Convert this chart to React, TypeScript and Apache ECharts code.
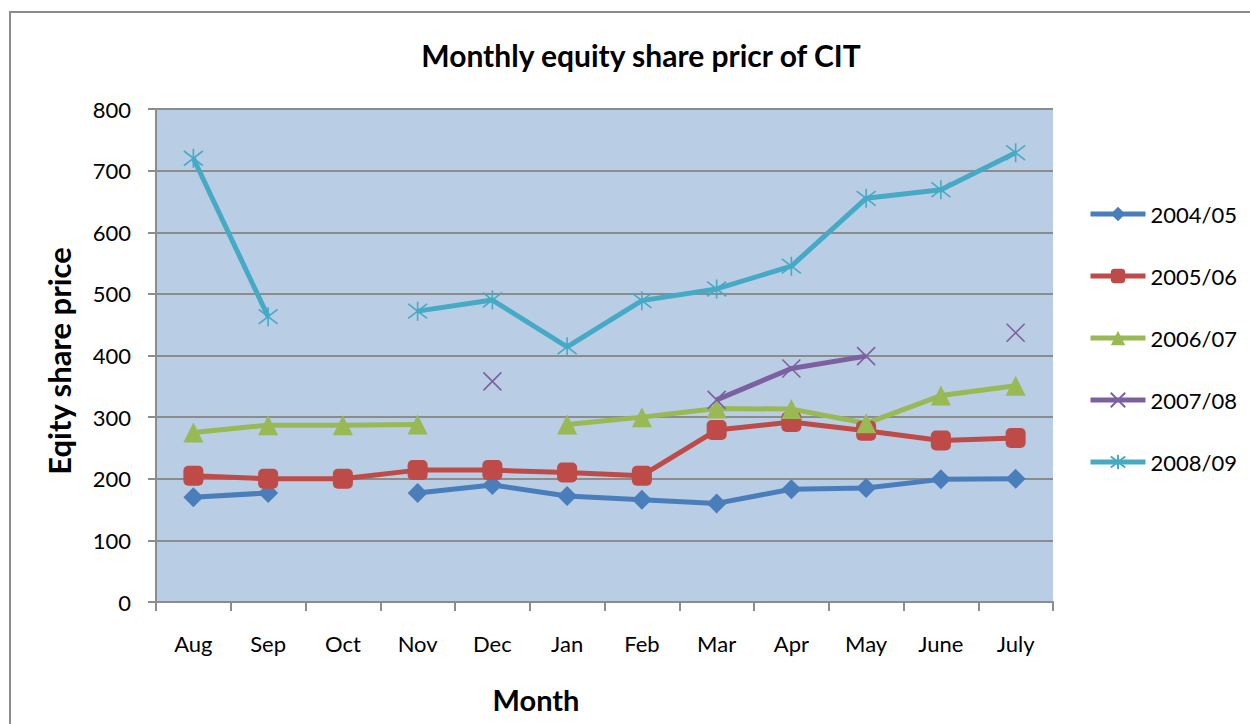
import React, { useEffect, useRef } from "react";
import * as echarts from "echarts";

const months = ["Aug", "Sep", "Oct", "Nov", "Dec", "Jan", "Feb", "Mar", "Apr", "May", "June", "July"];
const s2004 = [170, 177, null, 177, 190, 172, 166, 160, 183, 185, 199, 200];
const s2005 = [205, 200, 200, 214, 214, 210, 205, 279, 292, 278, 262, 266];
const s2006 = [275, 287, 287, 288, null, 288, 300, 314, 313, 290, 335, 351];
const s2007 = [null, null, null, null, 358, null, null, 328, 379, 399, null, 437];
const s2008 = [720, 463, null, 472, 490, 414, 489, 508, 545, 655, 669, 729];
const seriesNames = ["2004/05", "2005/06", "2006/07", "2007/08", "2008/09"];
const yTicks = { min: 0, max: 800, interval: 100 };

const FONT = "Lato, 'Open Sans', sans-serif";

export default function App() {
  const ref = useRef<HTMLDivElement>(null);
  useEffect(() => {
    if (!ref.current) return;
    const chart = echarts.init(ref.current, null, { renderer: "svg" });
    const crossPath = "path://M0,0L10,10M10,0L0,10";
    const starPath = "path://M0,0L10,10M10,0L0,10M5,-1.5L5,11.5";
    const mk = (name: string, data: (number | null)[], color: string, symbol: string, size: number, stroke: boolean) => ({
      name,
      type: "line",
      data,
      connectNulls: false,
      symbol,
      symbolSize: size,
      showAllSymbol: true,
      lineStyle: { color, width: 5 },
      itemStyle: stroke
        ? { color: "rgba(0,0,0,0)", borderColor: color, borderWidth: 1.6 }
        : { color, borderColor: color, borderWidth: 0 },
      emphasis: { disabled: true },
    });
    chart.setOption({
      animation: false,
      textStyle: { fontFamily: FONT },
      grid: {
        left: 156,
        top: 109,
        width: 897,
        height: 493,
        show: true,
        backgroundColor: "#B9CDE5",
        borderWidth: 0,
      },
      xAxis: {
        type: "category",
        data: months,
        boundaryGap: true,
        axisLine: { lineStyle: { color: "#8C8C8C", width: 2 } },
        axisTick: { show: true, length: 9, lineStyle: { color: "#8C8C8C", width: 2 } },
        axisLabel: { color: "#000", fontSize: 22, margin: 30, fontFamily: FONT },
      },
      yAxis: {
        type: "value",
        min: yTicks.min,
        max: yTicks.max,
        interval: yTicks.interval,
        axisLine: { show: true, lineStyle: { color: "#8C8C8C", width: 2 } },
        axisTick: { show: true, length: 8, lineStyle: { color: "#8C8C8C", width: 2 } },
        axisLabel: { color: "#000", fontSize: 22, margin: 25, fontFamily: FONT },
        splitLine: { show: true, lineStyle: { color: "#8C8C8C", width: 2 } },
      },
      legend: {
        orient: "vertical",
        left: 1083,
        top: 198,
        itemWidth: 55,
        itemHeight: 18,
        itemGap: 40,
        lineStyle: { width: 5 },
        textStyle: { color: "#000", fontSize: 22, fontFamily: FONT, padding: [0, 0, 0, 0] },
        data: seriesNames,
      },
      graphic: [
        {
          type: "rect",
          shape: { x: 10, y: 12, width: 1400, height: 900 },
          style: { fill: "none", stroke: "#8C8C8C", lineWidth: 2 },
          silent: true,
        },
        {
          type: "text",
          x: 641,
          y: 55,
          style: {
            text: "Monthly equity share pricr of CIT",
            fontSize: 30,
            fontWeight: "bold",
            fontFamily: FONT,
            fill: "#000",
            align: "center",
            verticalAlign: "middle",
          },
        },
        {
          type: "text",
          x: 536,
          y: 699,
          style: {
            text: "Month",
            fontSize: 29,
            fontWeight: "bold",
            fontFamily: FONT,
            fill: "#000",
            align: "center",
            verticalAlign: "middle",
          },
        },
        {
          type: "text",
          x: 59,
          y: 361,
          rotation: Math.PI / 2,
          style: {
            text: "Eqity share price",
            fontSize: 31,
            fontWeight: "bold",
            fontFamily: FONT,
            fill: "#000",
            align: "center",
            verticalAlign: "middle",
          },
        },
      ],
      series: [
        mk(seriesNames[0], s2004, "#4A7EBB", "diamond", 20, false),
        mk(seriesNames[1], s2005, "#BE4B48", "roundRect", 20, false),
        mk(seriesNames[2], s2006, "#98B954", "triangle", 20, false),
        mk(seriesNames[3], s2007, "#7D60A0", crossPath, 18, true),
        mk(seriesNames[4], s2008, "#46AAC5", starPath, 19, true),
      ],
    });
    return () => chart.dispose();
  }, []);
  return (
    <div
      ref={ref}
      style={{ position: "absolute", left: 0, top: 0, width: 1250, height: 724, background: "#fff" }}
    />
  );
}
